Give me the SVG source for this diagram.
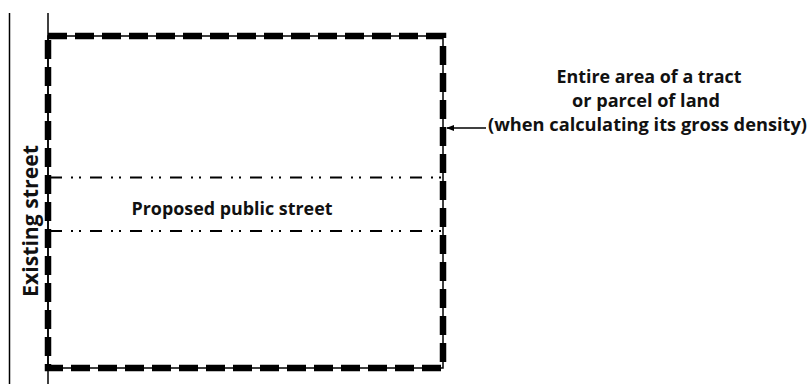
<svg xmlns="http://www.w3.org/2000/svg" width="810" height="385" viewBox="0 0 810 385">
<defs>
<style>
.thin{stroke:#000;stroke-width:1.5;fill:none}
.dash{stroke:#000;stroke-width:6.5;fill:none;stroke-dasharray:19 8}
.dd{stroke:#000;stroke-width:1.8;fill:none;stroke-dasharray:12 9 2 6 2 9}
.t{font-family:"Open Sans","Liberation Sans",sans-serif;font-weight:bold;fill:#111}
</style>
<marker id="ah" viewBox="0 0 10 10" refX="9" refY="5" markerWidth="8" markerHeight="8" markerUnits="userSpaceOnUse" orient="auto">
<path d="M0,1 L10,5 L0,9 z" fill="#000"/>
</marker>
</defs>
<rect width="810" height="385" fill="#fff"/>
<g id="existing-street">
<line class="thin" x1="9.5" y1="13" x2="9.5" y2="384"/>
<line class="thin" x1="48" y1="13" x2="48" y2="384"/>
<text class="t" font-size="21" transform="translate(37.5,221) rotate(-90)" text-anchor="middle" textLength="152" lengthAdjust="spacingAndGlyphs">Existing street</text>
</g>
<g id="tract">
<rect class="thin" x="48" y="36" width="395" height="332"/>
<path class="dash" d="M48,36 H443 V368 H48 Z"/>
</g>
<g id="proposed-street">
<line class="dd" x1="50" y1="177.5" x2="443" y2="177.5"/>
<line class="dd" x1="50" y1="231" x2="443" y2="231"/>
<text class="t" font-size="18" x="232" y="215" text-anchor="middle" textLength="201" lengthAdjust="spacingAndGlyphs">Proposed public street</text>
</g>
<g id="label">
<text class="t" font-size="17.5" x="649" y="83" text-anchor="middle" textLength="185" lengthAdjust="spacingAndGlyphs">Entire area of a tract</text>
<text class="t" font-size="17.5" x="646" y="107" text-anchor="middle" textLength="148" lengthAdjust="spacingAndGlyphs">or parcel of land</text>
<text class="t" font-size="17.5" x="647.5" y="131" text-anchor="middle" textLength="319" lengthAdjust="spacingAndGlyphs">(when calculating its gross density)</text>
</g>
<g id="connectors">
<line x1="486" y1="128" x2="447" y2="128" stroke="#000" stroke-width="1.5" marker-end="url(#ah)"/>
</g>
</svg>
